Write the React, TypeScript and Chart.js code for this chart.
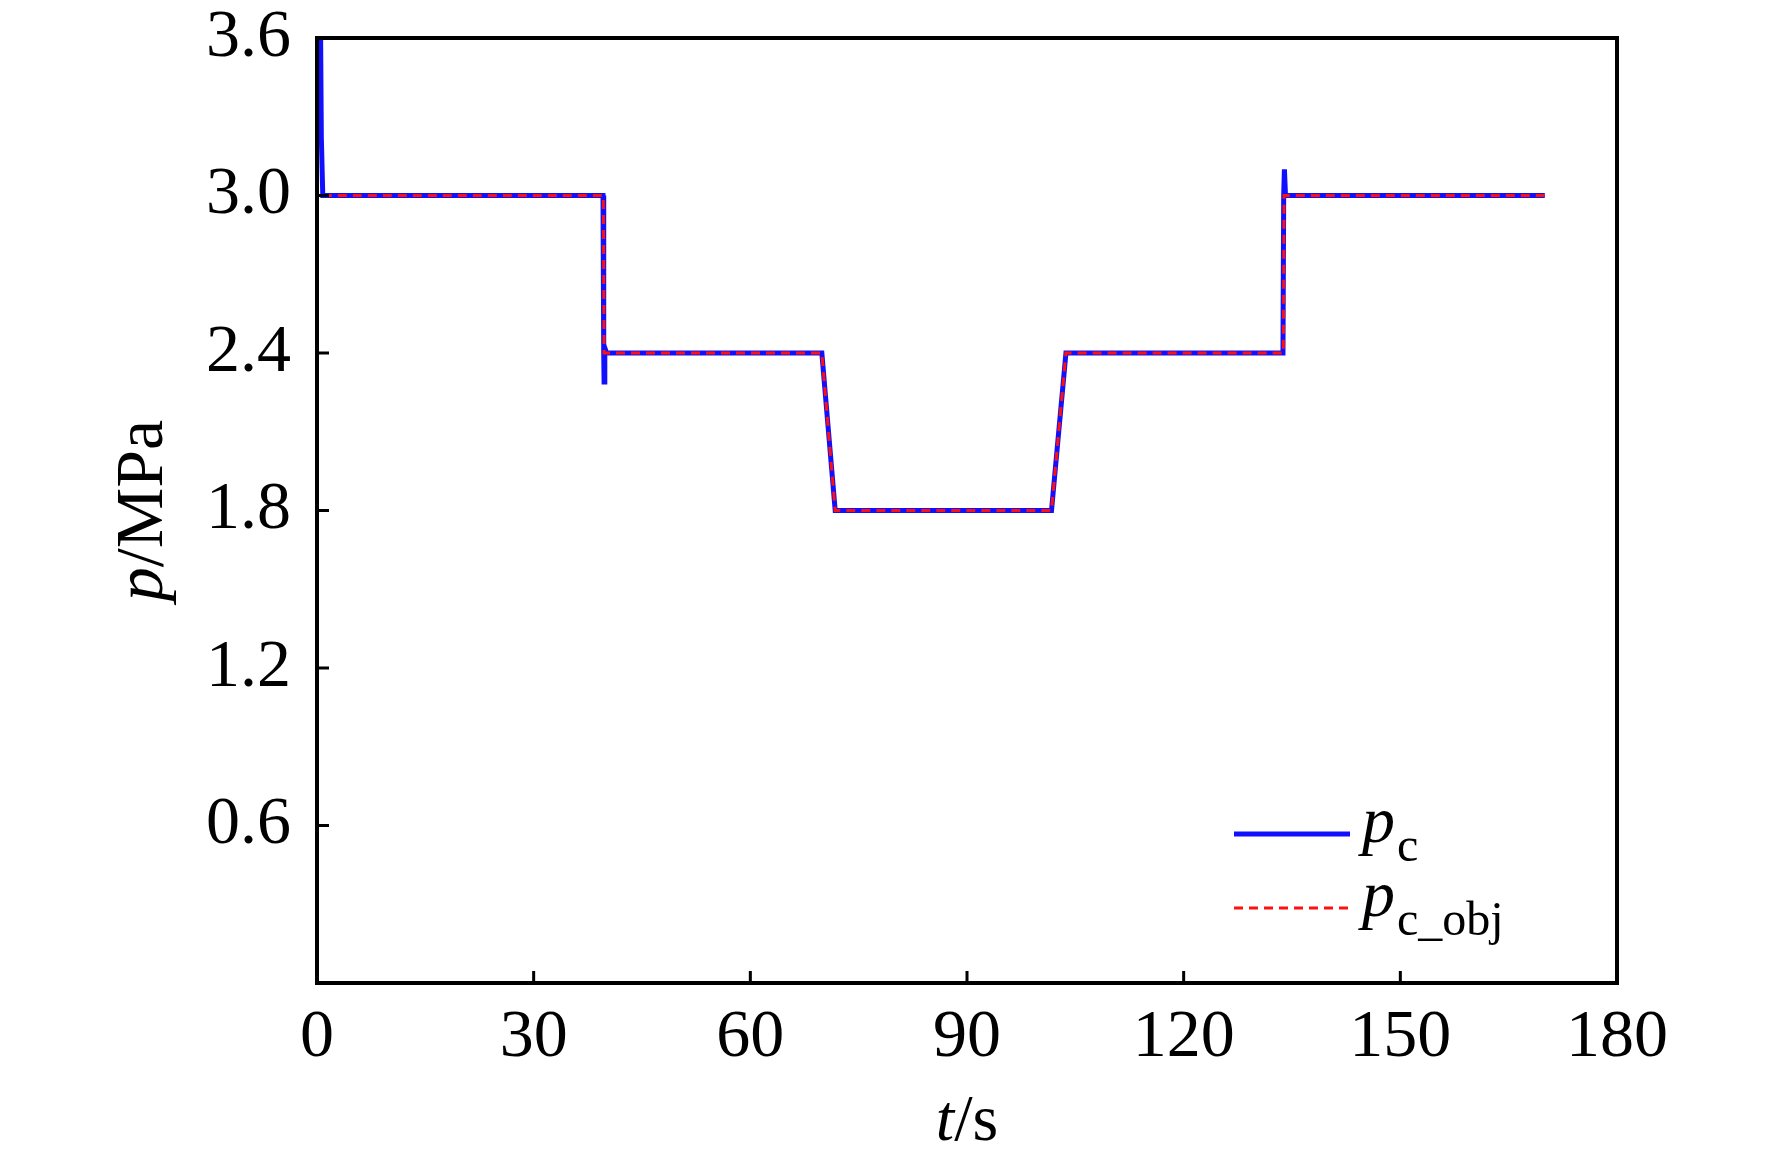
import { useEffect, useRef } from 'react'
import { Chart, registerables } from 'chart.js'

Chart.register(...registerables)

// p_c (measured pressure), time in s, value in MPa
const pcTime = [0.5, 0.6, 0.8, 39.6, 39.7, 39.75, 39.85, 40.1, 69.9, 71.75, 101.7, 103.7, 133.75, 133.85, 133.95, 134.1, 134.4, 170]
const pcValue = [3.6, 3.22, 3.0, 3.0, 2.4, 2.29, 2.42, 2.4, 2.4, 1.8, 1.8, 2.4, 2.4, 3.0, 3.1, 3.0, 3.0, 3.0]

// p_c_obj (target pressure)
const objTime = [0.8, 39.65, 39.75, 69.9, 71.75, 101.7, 103.7, 133.8, 133.9, 170]
const objValue = [3.0, 3.0, 2.4, 2.4, 1.8, 1.8, 2.4, 2.4, 3.0, 3.0]

const xTicks = [0, 30, 60, 90, 120, 150, 180]
const yTicks = [0, 0.6, 1.2, 1.8, 2.4, 3.0, 3.6]

const legendMain = ['p', 'p']
const legendSub = ['c', 'c_obj']

const FONT = '"Liberation Serif", "Times New Roman", serif'

const toPoints = (xs: number[], ys: number[]) => xs.map((x, i) => ({ x, y: ys[i] }))

const noPad = (s: any) => {
  s.paddingTop = 0
  s.paddingBottom = 0
  s.paddingLeft = 0
  s.paddingRight = 0
}

const decor = {
  id: 'decor',
  afterDatasetsDraw(chart: any) {
    const { ctx, chartArea: a, scales } = chart
    ctx.save()
    ctx.strokeStyle = '#000'
    ctx.lineWidth = 3
    // inward ticks
    ctx.beginPath()
    xTicks.slice(1, -1).forEach(v => {
      const x = scales.x.getPixelForValue(v)
      ctx.moveTo(x, a.bottom)
      ctx.lineTo(x, a.bottom - 12)
    })
    yTicks.slice(1, -1).forEach(v => {
      const y = scales.y.getPixelForValue(v)
      ctx.moveTo(a.left, y)
      ctx.lineTo(a.left + 12, y)
    })
    ctx.stroke()
    // frame
    ctx.lineWidth = 4
    ctx.strokeRect(a.left, a.top, a.right - a.left, a.bottom - a.top)
    ctx.restore()
  },
  afterDraw(chart: any) {
    const { ctx, chartArea: a } = chart
    ctx.save()
    ctx.fillStyle = '#000'
    ctx.textBaseline = 'alphabetic'
    ctx.textAlign = 'left'

    // x title: t/s
    const cx = (a.left + a.right) / 2
    ctx.font = `italic 66px ${FONT}`
    const wt = ctx.measureText('t').width
    ctx.font = `66px ${FONT}`
    const ws = ctx.measureText('/s').width
    let x0 = cx - (wt + ws) / 2
    ctx.font = `italic 66px ${FONT}`
    ctx.fillText('t', x0, 1140)
    ctx.font = `66px ${FONT}`
    ctx.fillText('/s', x0 + wt, 1140)

    // y title: p/MPa rotated
    ctx.save()
    ctx.translate(162, (a.top + a.bottom) / 2)
    ctx.rotate(-Math.PI / 2)
    ctx.font = `italic 68px ${FONT}`
    const wp = ctx.measureText('p').width
    ctx.font = `68px ${FONT}`
    const wm = ctx.measureText('/MPa').width
    x0 = -(wp + wm) / 2
    ctx.font = `italic 68px ${FONT}`
    ctx.fillText('p', x0, 0)
    ctx.font = `68px ${FONT}`
    ctx.fillText('/MPa', x0 + wp, 0)
    ctx.restore()

    // legend
    const rows = [834, 908]
    chart.data.datasets.forEach((ds: any, i: number) => {
      const y = rows[i]
      ctx.save()
      ctx.strokeStyle = ds.borderColor
      ctx.lineWidth = ds.borderWidth
      ctx.setLineDash(ds.borderDash || [])
      ctx.beginPath()
      ctx.moveTo(1234, y)
      ctx.lineTo(1350, y)
      ctx.stroke()
      ctx.restore()
      ctx.font = `italic 66px ${FONT}`
      ctx.fillText(legendMain[i], 1362, y + 8)
      const w = ctx.measureText(legendMain[i]).width
      ctx.font = `48px ${FONT}`
      ctx.fillText(legendSub[i], 1362 + w + 2, y + 27)
    })
    ctx.restore()
  },
}

export default function App() {
  const ref = useRef<HTMLCanvasElement>(null)
  useEffect(() => {
    if (!ref.current) return
    const chart = new Chart(ref.current, {
      type: 'line',
      data: {
        datasets: [
          {
            label: 'p_c',
            data: toPoints(pcTime, pcValue),
            borderColor: '#1010ff',
            borderWidth: 5,
            pointRadius: 0,
            tension: 0,
            order: 2,
          },
          {
            label: 'p_c_obj',
            data: toPoints(objTime, objValue),
            borderColor: '#ff1010',
            borderWidth: 3,
            borderDash: [9, 6],
            pointRadius: 0,
            tension: 0,
            order: 1,
          },
        ],
      },
      options: {
        animation: false,
        responsive: false,
        devicePixelRatio: 1,
        layout: { padding: { left: 0, right: 155, top: 38, bottom: 0 } },
        plugins: { legend: { display: false }, tooltip: { enabled: false } },
        scales: {
          x: {
            type: 'linear',
            min: 0,
            max: 180,
            afterBuildTicks: (s: any) => { s.ticks = xTicks.map(v => ({ value: v })) },
            afterFit: (s: any) => { s.height = 174; noPad(s) },
            grid: { display: false, drawTicks: false },
            border: { display: false },
            ticks: { color: '#000', font: { family: FONT, size: 68 }, padding: 14, maxRotation: 0 },
          },
          y: {
            type: 'linear',
            min: 0,
            max: 3.6,
            afterBuildTicks: (s: any) => { s.ticks = yTicks.map(v => ({ value: v })) },
            afterFit: (s: any) => { s.width = 317; noPad(s) },
            grid: { display: false, drawTicks: false },
            border: { display: false },
            ticks: {
              color: '#000',
              font: { family: FONT, size: 68 },
              padding: 26,
              callback: (v: any) => (v === 0 ? '' : Number(v).toFixed(1)),
            },
          },
        },
      },
      plugins: [decor],
    })
    return () => chart.destroy()
  }, [])
  return (
    <div style={{ position: 'absolute', left: 0, top: 0, width: 1772, height: 1157, background: '#fff' }}>
      <canvas ref={ref} width={1772} height={1157} />
    </div>
  )
}
